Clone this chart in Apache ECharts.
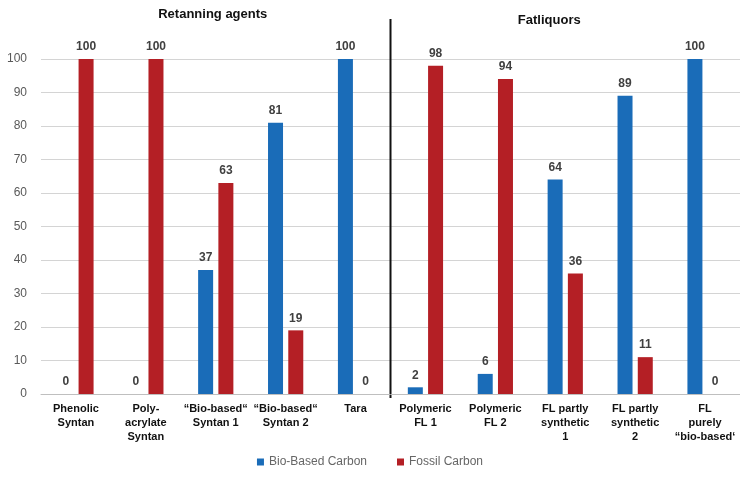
<!DOCTYPE html>
<html>
<head>
<meta charset="utf-8">
<script src="https://cdn.jsdelivr.net/npm/echarts@6/dist/echarts.min.js"></script>
<style>
	html,body{margin:0;padding:0;background:#fff;}
	#chart{width:740px;height:479px;}
</style>
</head>
<body>
<div id="chart"></div>
<script>
// 数据
var categories = ['Phenolic\nSyntan', 'Poly-\nacrylate\nSyntan', '\u201cBio-based\u201c\nSyntan 1', '\u201cBio-based\u201c\nSyntan 2', 'Tara',
	'Polymeric\nFL 1', 'Polymeric\nFL 2', 'FL partly\nsynthetic\n1', 'FL partly\nsynthetic\n2', 'FL\npurely\n\u201cbio-based\u2018'];
var bioBased = [0, 0, 37, 81, 100, 2, 6, 64, 89, 100];
var fossil = [100, 100, 63, 19, 0, 98, 94, 36, 11, 0];
var yTicks = [0, 100, 10];
var groups = ['Retanning agents', 'Fatliquors'];

var myChart = echarts.init(document.getElementById('chart'));

var labelStyle = {
	show: true,
	position: 'top',
	distance: 6,
	color: '#404040',
	fontWeight: 'bold',
	fontSize: 12,
	fontFamily: 'Liberation Sans'
};

var option = {
	animation: false,
	textStyle: {fontFamily: 'Liberation Sans'},
	grid: {left: 41, right: 0, top: 59, bottom: 85},
	legend: {
		bottom: 6,
		left: 'center',
		itemWidth: 7,
		itemHeight: 7,
		itemGap: 30,
		icon: 'rect',
		textStyle: {color: '#666', fontSize: 12, fontFamily: 'Liberation Sans'},
		data: ['Bio-Based Carbon', 'Fossil Carbon']
	},
	xAxis: {
		type: 'category',
		data: categories,
		axisTick: {show: false},
		axisLine: {lineStyle: {color: '#bfbfbf'}},
		axisLabel: {
			interval: 0,
			color: '#111',
			fontWeight: 'bold',
			fontSize: 11,
			lineHeight: 14,
			margin: 8
		}
	},
	yAxis: {
		type: 'value',
		min: yTicks[0],
		max: yTicks[1],
		interval: yTicks[2],
		axisLine: {show: false},
		axisTick: {show: false},
		splitLine: {lineStyle: {color: '#d4d4d4'}},
		axisLabel: {color: '#595959', fontSize: 12, margin: 14}
	},
	series: [
		{
			name: 'Bio-Based Carbon',
			type: 'bar',
			data: bioBased,
			barWidth: 15,
			barGap: '35%',
			itemStyle: {color: '#1a6cb8'},
			label: labelStyle
		},
		{
			name: 'Fossil Carbon',
			type: 'bar',
			data: fossil,
			barWidth: 15,
			itemStyle: {color: '#b41f25'},
			label: labelStyle
		}
	]
};
myChart.setOption(option);

// 分组标题和分隔线
var xMid = (myChart.convertToPixel({xAxisIndex: 0}, 4) + myChart.convertToPixel({xAxisIndex: 0}, 5)) / 2;
var xLeft = myChart.convertToPixel({xAxisIndex: 0}, 2) - 3;
var xRight = myChart.convertToPixel({xAxisIndex: 0}, 7) - 16;
var yBottom = myChart.convertToPixel({yAxisIndex: 0}, 0);
myChart.setOption({
	graphic: [
		{
			type: 'line',
			shape: {x1: xMid, y1: 19, x2: xMid, y2: yBottom + 4},
			style: {stroke: '#111', lineWidth: 2}
		},
		{
			type: 'text',
			x: xLeft, y: 14,
			style: {text: groups[0], fill: '#111', font: 'bold 13px Liberation Sans', align: 'center', verticalAlign: 'middle'}
		},
		{
			type: 'text',
			x: xRight, y: 20,
			style: {text: groups[1], fill: '#111', font: 'bold 13px Liberation Sans', align: 'center', verticalAlign: 'middle'}
		}
	]
});
</script>
</body>
</html>
